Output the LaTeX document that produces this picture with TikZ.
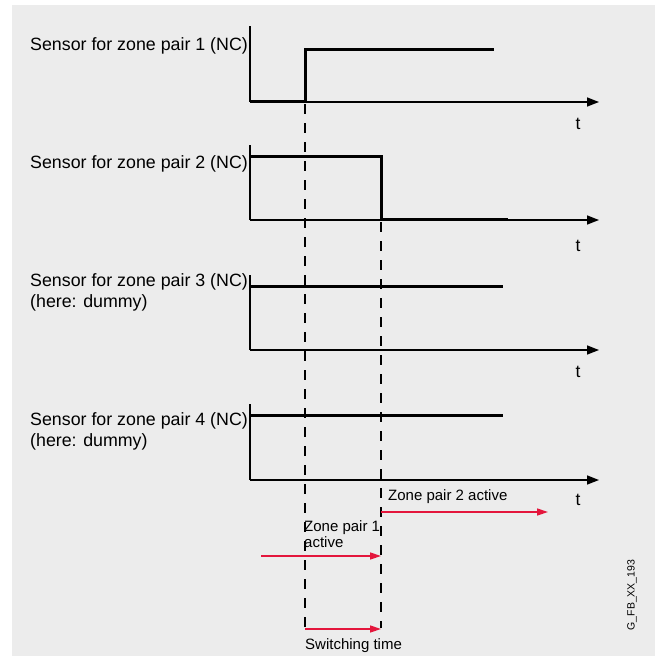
\documentclass[tikz,border=0pt]{standalone}
\usepackage{fontspec}
\setmainfont{Liberation Sans}
\usetikzlibrary{arrows.meta}
\definecolor{bg}{RGB}{236,236,236}
\definecolor{zred}{RGB}{228,22,60}
\begin{document}
\begin{tikzpicture}[x=1pt,y=-1pt,
  axis/.style={line width=1.5pt,-{Triangle[length=12pt,width=9pt]}},
  yaxis/.style={line width=1.5pt},
  signal/.style={line width=3pt},
  marker/.style={line width=2.5pt,dash pattern=on 10pt off 9pt},
  redarrow/.style={zred,line width=1.5pt,-{Triangle[length=11pt,width=7pt]}},
  lbl/.style={font=\fontsize{17.8}{21}\selectfont,align=left,inner sep=0pt},
  small/.style={font=\fontsize{15}{16.5}\selectfont,align=left,inner sep=0pt},
  tlbl/.style={font=\fontsize{17.5}{21}\selectfont,inner sep=0pt},
]
\useasboundingbox (0,0) rectangle (655,656);
\fill[bg] (12,5) rectangle (655,656);

% ---------- chart 1 ----------
\coordinate (y1) at (250,26);
\coordinate (o1) at (250,102);
\coordinate (x1) at (599,102);
\draw[yaxis] (y1) -- (o1);
\draw[axis] (o1) -- (x1);
\coordinate (s1a) at (250,101);
\coordinate (s1b) at (305,101);
\coordinate (s1c) at (305,49);
\coordinate (s1d) at (494,49);
\draw[signal] (s1a) -- (s1b) -- (s1c) -- (s1d);
\node[lbl,anchor=base west] (l1) at (30,50) {Sensor for zone pair 1 (NC)};
\node[tlbl] (t1) at (578,124) {t};

% ---------- chart 2 ----------
\coordinate (y2) at (250,145);
\coordinate (o2) at (250,220);
\coordinate (x2) at (599,220);
\draw[yaxis] (y2) -- (o2);
\draw[axis] (o2) -- (x2);
\coordinate (s2a) at (250,156);
\coordinate (s2b) at (381,156);
\coordinate (s2c) at (381,219);
\coordinate (s2d) at (508,219);
\draw[signal] (s2a) -- (s2b) -- (s2c) -- (s2d);
\node[lbl,anchor=base west] (l2) at (30,168) {Sensor for zone pair 2 (NC)};
\node[tlbl] (t2) at (578,246) {t};

% ---------- chart 3 ----------
\coordinate (y3) at (250,275);
\coordinate (o3) at (250,350);
\coordinate (x3) at (599,350);
\draw[yaxis] (y3) -- (o3);
\draw[axis] (o3) -- (x3);
\coordinate (s3a) at (251,286);
\coordinate (s3b) at (503,286);
\draw[signal] (s3a) -- (s3b);
\node[lbl,anchor=base west] (l3) at (30,307) {Sensor for zone pair 3 (NC)\\(here: dummy)};
\node[tlbl] (t3) at (578,372) {t};

% ---------- chart 4 ----------
\coordinate (y4) at (250,404);
\coordinate (o4) at (250,480);
\coordinate (x4) at (599,480);
\draw[yaxis] (y4) -- (o4);
\draw[axis] (o4) -- (x4);
\coordinate (s4a) at (251,415);
\coordinate (s4b) at (503,415);
\draw[signal] (s4a) -- (s4b);
\node[lbl,anchor=base west] (l4) at (30,446) {Sensor for zone pair 4 (NC)\\(here: dummy)};
\node[tlbl] (t4) at (578,500) {t};

% ---------- timing markers ----------
\coordinate (d1a) at (305,104);
\coordinate (d1b) at (305,628);
\coordinate (d2a) at (381,222);
\coordinate (d2b) at (381,628);
\draw[marker] (d1a) -- (d1b);
\draw[marker] (d2a) -- (d2b);

% ---------- red annotations ----------
\coordinate (r2a) at (381,512);
\coordinate (r2b) at (548,512);
\draw[redarrow] (r2a) -- (r2b);
\node[small,anchor=base west] (z2) at (388,500) {Zone pair 2 active};

\coordinate (r1a) at (261,556);
\coordinate (r1b) at (381,556);
\draw[redarrow] (r1a) -- (r1b);
\node[small,anchor=base west] (z1) at (304,547.5) {Zone pair 1\\active};

\coordinate (rsa) at (305,629);
\coordinate (rsb) at (381,629);
\draw[redarrow] (rsa) -- (rsb);
\node[small,anchor=base west] (sw) at (305,649) {Switching time};

\node[font=\fontsize{10.5}{12}\selectfont,rotate=90,inner sep=0pt] (id) at (632,595) {G\_FB\_XX\_193};
\end{tikzpicture}
\end{document}
